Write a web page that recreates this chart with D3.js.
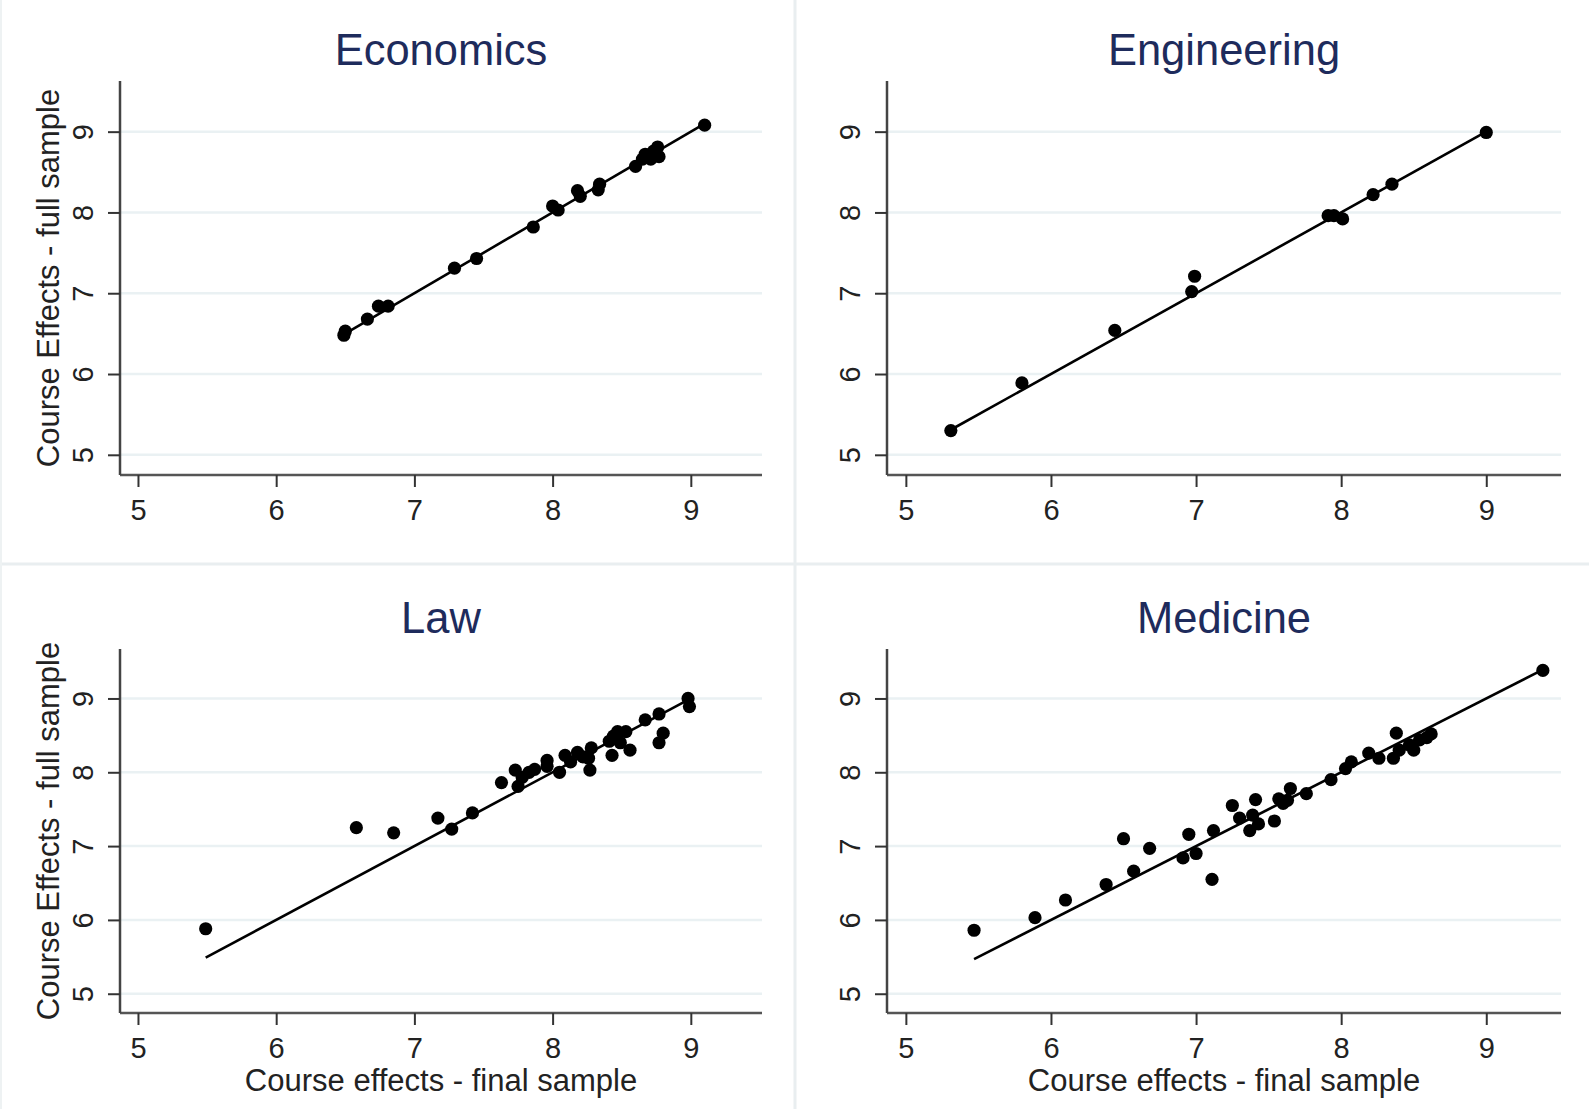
<!DOCTYPE html>
<html>
<head>
<meta charset="utf-8">
<script src="https://cdn.jsdelivr.net/npm/d3@7"></script>
<style>
  body { margin: 0; background: #fff; }
  text { font-family: "Liberation Sans", Arial, Helvetica, sans-serif; }
</style>
</head>
<body>
<div id="chart"></div>
<script>
// panel titles and shared axis text
var panelTitles = ["Economics", "Engineering", "Law", "Medicine"];
var xTicks = [5, 6, 7, 8, 9];
var yTicks = [5, 6, 7, 8, 9];
var yTitle = "Course Effects - full sample";
var xTitle = "Course effects - final sample";

// course effects, final sample (x) vs full sample (y)
var econX = [6.50, 6.49, 6.66, 6.74, 6.81, 7.29, 7.45, 7.86, 8.00, 8.04, 8.18, 8.20, 8.34, 8.33, 8.60, 8.65, 8.67, 8.73, 8.76, 8.77, 8.71, 9.10];
var econY = [6.53, 6.48, 6.68, 6.84, 6.84, 7.31, 7.43, 7.82, 8.08, 8.03, 8.27, 8.20, 8.35, 8.28, 8.57, 8.66, 8.72, 8.76, 8.81, 8.69, 8.66, 9.08];

var engX = [5.31, 5.80, 6.44, 6.99, 6.97, 7.91, 7.95, 8.01, 8.22, 8.35, 9.00];
var engY = [5.30, 5.89, 6.54, 7.21, 7.02, 7.96, 7.96, 7.92, 8.22, 8.35, 8.99];

var lawX = [5.49, 6.58, 6.85, 7.17, 7.27, 7.42, 7.63, 7.73, 7.75, 7.78, 7.83, 7.87, 7.96, 7.96, 8.05, 8.09, 8.13, 8.18, 8.22, 8.26, 8.27, 8.28,
            8.41, 8.43, 8.44, 8.47, 8.49, 8.53, 8.56, 8.67, 8.77, 8.77, 8.80, 8.98, 8.99];
var lawY = [5.88, 7.25, 7.18, 7.38, 7.23, 7.45, 7.86, 8.03, 7.81, 7.93, 8.00, 8.04, 8.16, 8.08, 8.00, 8.23, 8.14, 8.27, 8.21, 8.19, 8.03, 8.33,
            8.42, 8.23, 8.49, 8.55, 8.40, 8.55, 8.30, 8.71, 8.79, 8.40, 8.53, 9.00, 8.89];

var medX = [5.47, 5.89, 6.10, 6.38, 6.50, 6.57, 6.68, 6.91, 6.95, 7.00, 7.11, 7.12, 7.25, 7.30, 7.37, 7.39, 7.41, 7.43, 7.54, 7.57, 7.60, 7.65, 7.63,
            7.76, 7.93, 8.03, 8.07, 8.19, 8.26, 8.36, 8.38, 8.40, 8.47, 8.50, 8.54, 8.59, 8.62, 9.39];
var medY = [5.86, 6.03, 6.27, 6.48, 7.10, 6.66, 6.97, 6.84, 7.16, 6.90, 6.55, 7.21, 7.55, 7.38, 7.21, 7.42, 7.63, 7.30, 7.34, 7.64, 7.58, 7.78, 7.62,
            7.71, 7.90, 8.05, 8.14, 8.26, 8.19, 8.19, 8.53, 8.30, 8.37, 8.30, 8.44, 8.47, 8.52, 9.38];

var width = 1589, height = 1109;

var svg = d3.select("#chart")
  .append("svg")
    .attr("width", width)
    .attr("height", height);

svg.append("rect")
  .attr("width", width)
  .attr("height", height)
  .attr("fill", "#fff");

// faint separators between the combined graphs
svg.append("line").attr("x1", 795).attr("x2", 795).attr("y1", 0).attr("y2", height)
  .style("stroke", "#e9eef0").style("stroke-width", 3);
svg.append("line").attr("x1", 0).attr("x2", width).attr("y1", 564).attr("y2", 564)
  .style("stroke", "#e9eef0").style("stroke-width", 3);
svg.append("line").attr("x1", 1).attr("x2", 1).attr("y1", 0).attr("y2", height)
  .style("stroke", "#eef2f3").style("stroke-width", 2);

var panels = [
  { title: panelTitles[0], xs: econX, ys: econY, left: 120, right: 762, top: 81, bottom: 475, yDom: [4.75, 9.627], showY: true, showX: false },
  { title: panelTitles[1], xs: engX, ys: engY, left: 887, right: 1561, top: 81, bottom: 475, yDom: [4.75, 9.627], showY: false, showX: false },
  { title: panelTitles[2], xs: lawX, ys: lawY, left: 120, right: 762, top: 649, bottom: 1013, yDom: [4.739, 9.67], showY: true, showX: true },
  { title: panelTitles[3], xs: medX, ys: medY, left: 887, right: 1561, top: 649, bottom: 1013, yDom: [4.739, 9.67], showY: false, showX: true }
];

panels.forEach(function(p) {
  var x = d3.scaleLinear().domain([4.87, 9.515]).range([p.left, p.right]);
  var y = d3.scaleLinear().domain(p.yDom).range([p.bottom, p.top]);
  var g = svg.append("g");

  // horizontal gridlines
  g.selectAll(".grid")
    .data(yTicks)
    .enter()
    .append("line")
      .attr("x1", p.left)
      .attr("x2", p.right)
      .attr("y1", function(d) { return y(d); })
      .attr("y2", function(d) { return y(d); })
      .style("stroke", "#eaf1f3")
      .style("stroke-width", 2.5);

  // x axis
  var xAxis = g.append("g")
    .attr("transform", "translate(0," + p.bottom + ")")
    .call(d3.axisBottom(x).tickValues(xTicks).tickFormat(d3.format("d"))
      .tickSize(12).tickPadding(12).tickSizeOuter(0));
  xAxis.select(".domain").style("stroke", "#555").style("stroke-width", 2.5)
    .attr("d", "M" + p.left + ",0H" + p.right);
  xAxis.selectAll(".tick line").style("stroke", "#333").style("stroke-width", 2);
  xAxis.selectAll(".tick text").style("font-size", "29px").style("fill", "#222");

  // y axis, labels turned like Stata does
  var yAxis = g.append("g")
    .attr("transform", "translate(" + p.left + ",0)")
    .call(d3.axisLeft(y).tickValues(yTicks).tickFormat(d3.format("d"))
      .tickSize(12).tickSizeOuter(0));
  yAxis.select(".domain").style("stroke", "#444").style("stroke-width", 2.5)
    .attr("d", "M0," + p.top + "V" + p.bottom);
  yAxis.selectAll(".tick line").style("stroke", "#333").style("stroke-width", 2);
  yAxis.selectAll(".tick text")
    .attr("x", null).attr("dy", null)
    .attr("text-anchor", "middle")
    .attr("transform", "translate(-37,0) rotate(-90)")
    .attr("dominant-baseline", "central")
    .style("font-size", "29px").style("fill", "#222");

  // 45 degree line over the range of the data
  var xr = d3.extent(p.xs);
  g.append("line")
    .attr("x1", x(xr[0])).attr("y1", y(xr[0]))
    .attr("x2", x(xr[1])).attr("y2", y(xr[1]))
    .style("stroke", "#000")
    .style("stroke-width", 2.6);

  // points
  g.selectAll("circle")
    .data(p.xs)
    .enter()
    .append("circle")
      .attr("cx", function(d) { return x(d); })
      .attr("cy", function(d, i) { return y(p.ys[i]); })
      .attr("r", 6.6)
      .style("fill", "#000");

  g.append("text")
    .attr("x", (p.left + p.right) / 2)
    .attr("y", p.top - 16)
    .attr("text-anchor", "middle")
    .style("font-size", "43.5px")
    .style("fill", "#1e2b5c")
    .text(p.title);

  if (p.showY) {
    g.append("text")
      .attr("transform", "translate(48," + (p.top + p.bottom) / 2 + ") rotate(-90)")
      .attr("text-anchor", "middle")
      .attr("dominant-baseline", "central")
      .style("font-size", "31px")
      .style("fill", "#222")
      .text(yTitle);
  }
  if (p.showX) {
    g.append("text")
      .attr("x", (p.left + p.right) / 2)
      .attr("y", 1091)
      .attr("text-anchor", "middle")
      .style("font-size", "31px")
      .style("fill", "#222")
      .text(xTitle);
  }
});
</script>
</body>
</html>
